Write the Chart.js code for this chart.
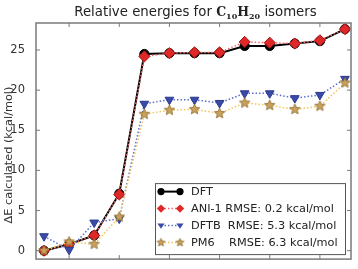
<!DOCTYPE html>
<html>
<head>
<meta charset="utf-8">
<script src="https://cdn.jsdelivr.net/npm/chart.js@4.4.1/dist/chart.umd.min.js"></script>
<style>
  html, body { margin: 0; padding: 0; background: #fff; }
  #wrap { position: relative; width: 358px; height: 269px; }
  #title {
    position: absolute; left: 0; top: 4px; width: 391px; text-align: center;
    font: 13.3px "DejaVu Sans", sans-serif; color: #222; line-height: 16px; z-index: 2;
  }
  #title b { font-family: "DejaVu Serif", serif; font-weight: bold; font-size: 12.5px; }
  #title sub { font-family: "DejaVu Serif", serif; font-weight: bold; font-size: 8px; line-height: 0; vertical-align: -3px; }
</style>
</head>
<body>
<div id="wrap">
  <div id="title">Relative energies for <b>C</b><sub>10</sub><b>H</b><sub>20</sub> isomers</div>
  <canvas id="grafico" width="358" height="269"></canvas>
</div>
<script>
const isomeros = [0, 1, 2, 3, 4, 5, 6, 7, 8, 9, 10, 11, 12];
const dft   = [0, 0.8, 1.9, 7.1, 24.5, 24.6, 24.6, 24.6, 25.5, 25.5, 25.8, 26.1, 27.6];
const ani1  = [0, 0.8, 1.9, 7.0, 24.2, 24.6, 24.7, 24.7, 26.0, 25.9, 25.8, 26.2, 27.6];
const dftb  = [1.8, 0.1, 3.5, 4.0, 18.3, 18.8, 18.8, 18.4, 19.6, 19.6, 19.0, 19.4, 21.4];
const pm6   = [0, 1.1, 0.8, 4.2, 17.0, 17.5, 17.6, 17.1, 18.4, 18.1, 17.6, 18.0, 20.9];
const rotulos = ["DFT", "ANI-1 RMSE: 0.2 kcal/mol", "DFTB  RMSE: 5.3 kcal/mol", "PM6    RMSE: 6.3 kcal/mol"];
const yTicks = [0, 5, 10, 15, 20, 25];
const xTicks = [1, 3, 5, 7, 9, 11];
const tituloY = "ΔE calculated (kcal/mol)";

const pontos = vals => vals.map((v, i) => ({ x: isomeros[i], y: v }));

// estrela preenchida (o 'star' do Chart.js so tem tracos)
const fazerEstrela = (r) => {
    const c = document.createElement("canvas");
    const s = Math.ceil(r * 2 + 2);
    c.width = s; c.height = s;
    const g = c.getContext("2d");
    g.beginPath();
    for (let k = 0; k < 10; k++) {
        const rad = k % 2 === 0 ? r : r * 0.45;
        const a = -Math.PI / 2 + k * Math.PI / 5;
        g.lineTo(s / 2 + rad * Math.cos(a), s / 2 + rad * Math.sin(a));
    }
    g.closePath();
    g.fillStyle = "#c9a15a";
    g.fill();
    g.strokeStyle = "#8a6a30";
    g.lineWidth = 0.8;
    g.stroke();
    return c;
};
const estrela = fazerEstrela(5.5);
const estrelaPeq = fazerEstrela(4.2);

const molduraPlugin = {
    id: "moldura",
    afterDraw(chart) {
        const { ctx, chartArea: a, scales } = chart;
        ctx.save();
        ctx.strokeStyle = "#7a7a7a";
        ctx.lineWidth = 1.5;
        ctx.strokeRect(a.left, a.top, a.right - a.left, a.bottom - a.top);
        ctx.lineWidth = 1;
        ctx.beginPath();
        yTicks.forEach(v => {
            const y = scales.y.getPixelForValue(v);
            ctx.moveTo(a.left, y); ctx.lineTo(a.left + 4, y);
            ctx.moveTo(a.right, y); ctx.lineTo(a.right - 4, y);
        });
        xTicks.forEach(v => {
            const x = scales.x.getPixelForValue(v);
            ctx.moveTo(x, a.bottom); ctx.lineTo(x, a.bottom - 4);
            ctx.moveTo(x, a.top); ctx.lineTo(x, a.top + 4);
        });
        ctx.stroke();

        // rotulo do eixo y
        ctx.save();
        ctx.translate(8.8, 155);
        ctx.rotate(-Math.PI / 2);
        ctx.fillStyle = "#333";
        ctx.font = "11.3px 'DejaVu Sans'";
        ctx.textAlign = "center";
        ctx.textBaseline = "middle";
        ctx.fillText(tituloY, 0, 0);
        ctx.restore();

        // legenda
        const w = 190, h = 71;
        const x0 = a.right - 6 - w, y0 = a.bottom - 5 - h;
        ctx.fillStyle = "#fff";
        ctx.fillRect(x0, y0, w, h);
        ctx.strokeStyle = "#555";
        ctx.lineWidth = 1;
        ctx.strokeRect(x0 + 0.5, y0 + 0.5, w, h);
        chart.data.datasets.forEach((ds, i) => {
            const y = y0 + 8.5 + i * 17;
            const xa = x0 + 6, xb = x0 + 25;
            ctx.save();
            ctx.strokeStyle = ds.borderColor;
            ctx.lineWidth = ds.borderWidth;
            ctx.setLineDash(ds.borderDash || []);
            ctx.beginPath(); ctx.moveTo(xa, y); ctx.lineTo(xb, y); ctx.stroke();
            ctx.restore();
            [xa, xb].forEach(px => desenharMarcador(ctx, i, px, y));
            ctx.fillStyle = "#222";
            ctx.font = "11.3px 'DejaVu Sans'";
            ctx.textBaseline = "middle";
            ctx.fillText(ds.label, x0 + 36, y + 0.5);
        });
        ctx.restore();
    }
};

function desenharMarcador(ctx, i, x, y) {
    ctx.save();
    ctx.beginPath();
    if (i === 0) {
        ctx.arc(x, y, 3.6, 0, Math.PI * 2);
        ctx.fillStyle = "#000"; ctx.fill();
    } else if (i === 1) {
        const r = 4.2;
        ctx.moveTo(x, y - r); ctx.lineTo(x + r, y); ctx.lineTo(x, y + r); ctx.lineTo(x - r, y); ctx.closePath();
        ctx.fillStyle = "#e02828"; ctx.fill();
    } else if (i === 2) {
        const r = 3.6;
        ctx.moveTo(x - r, y - r * 0.6); ctx.lineTo(x + r, y - r * 0.6); ctx.lineTo(x, y + r * 0.9); ctx.closePath();
        ctx.fillStyle = "#3a4aa8"; ctx.fill();
    } else {
        ctx.drawImage(estrelaPeq, x - estrelaPeq.width / 2, y - estrelaPeq.height / 2);
    }
    ctx.restore();
}

const ctx = document.getElementById("grafico").getContext("2d");
new Chart(ctx, {
    type: "line",
    data: {
        datasets: [
            {
                label: rotulos[0], data: pontos(dft), order: 4,
                borderColor: "#000", borderWidth: 2,
                pointStyle: "circle", pointRadius: 4.6,
                pointBackgroundColor: "#000", pointBorderColor: "#000", pointBorderWidth: 1
            },
            {
                label: rotulos[1], data: pontos(ani1), order: 3,
                borderColor: "#ee6a6a", borderWidth: 1.5, borderDash: [1.5, 2],
                pointStyle: "rectRot", pointRadius: 5.6,
                pointBackgroundColor: "#e02828", pointBorderColor: "#a01818", pointBorderWidth: 1
            },
            {
                label: rotulos[2], data: pontos(dftb), order: 2,
                borderColor: "#5b6fcc", borderWidth: 1.5, borderDash: [1.5, 2],
                pointStyle: "triangle", pointRotation: 180, pointRadius: 5,
                pointBackgroundColor: "#3a4aa8", pointBorderColor: "#2a3a8a", pointBorderWidth: 1
            },
            {
                label: rotulos[3], data: pontos(pm6), order: 1,
                borderColor: "#f2c45a", borderWidth: 1.5, borderDash: [1.5, 2],
                pointStyle: estrela, pointRadius: 5.5
            }
        ]
    },
    options: {
        responsive: false,
        animation: false,
        layout: { padding: { left: 0, right: 5, top: 23, bottom: 3 } },
        plugins: { legend: { display: false }, tooltip: { enabled: false }, title: { display: false } },
        scales: {
            x: {
                type: "linear", min: -0.32, max: 12.24,
                grid: { display: false }, border: { display: false },
                ticks: { display: false },
                afterFit: s => { s.height = 0; }
            },
            y: {
                min: -1.05, max: 28.36,
                grid: { display: false }, border: { display: false },
                afterBuildTicks: s => { s.ticks = yTicks.map(v => ({ value: v })); },
                afterFit: s => { s.width = 36; },
                ticks: { color: "#333", padding: 3, font: { family: "DejaVu Sans", size: 11.5 } }
            }
        }
    },
    plugins: [molduraPlugin]
});
</script>
</body>
</html>
